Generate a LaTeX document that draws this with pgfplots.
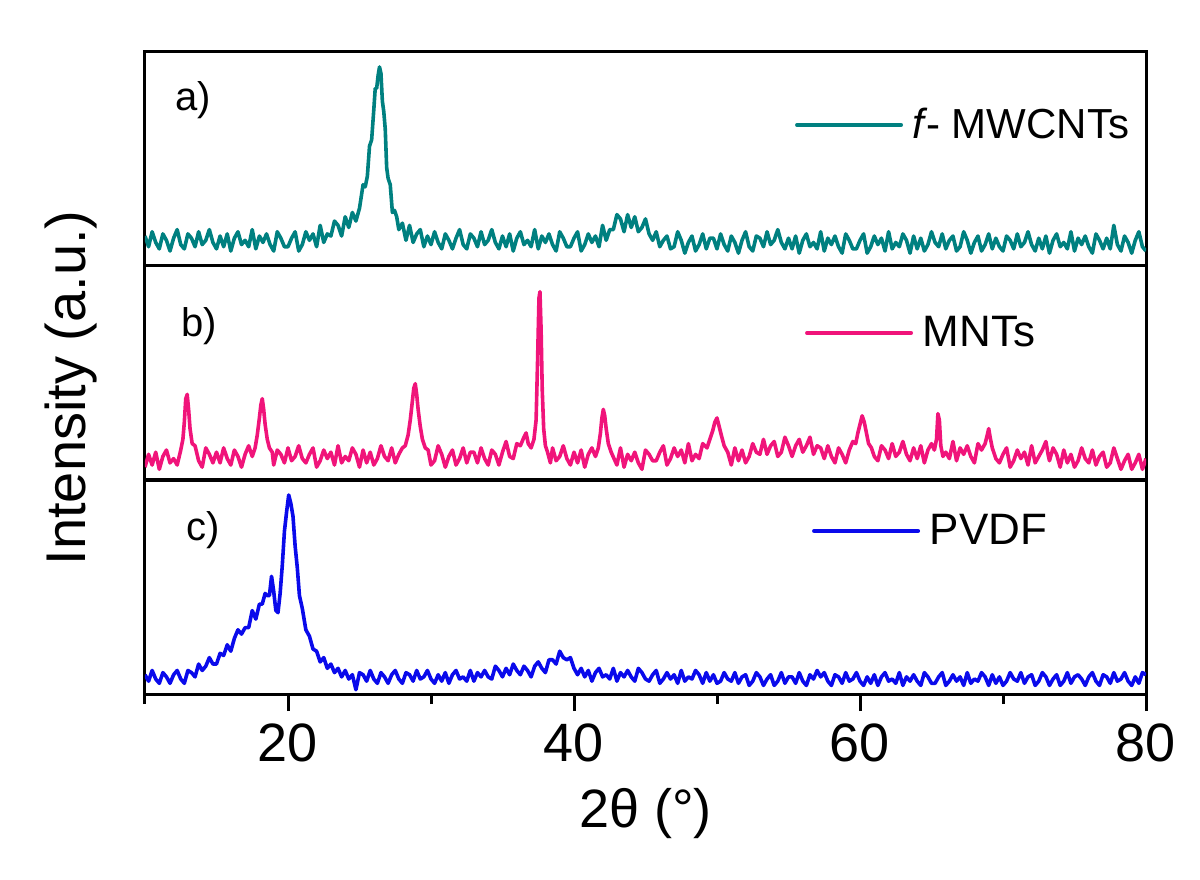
\documentclass[border=0pt]{standalone}
\usepackage{pgfplots}
\pgfplotsset{compat=1.18}
\usepackage{fontspec}
\setmainfont{Liberation Sans}
\definecolor{cteal}{RGB}{0,128,128}
\definecolor{cpink}{RGB}{240,20,122}
\definecolor{cblue}{RGB}{10,10,235}
\pgfplotsset{
  panel/.style={
    width=500.5pt, height=107pt, scale only axis,
    xmin=10, xmax=80, ymin=0, ymax=100,
    ytick=\empty,
    axis line style={line width=1.5pt},
    legend style={draw=none, fill=none, inner sep=0pt, font=\fontsize{22}{24}\selectfont, cells={anchor=west}},
    legend image code/.code={\draw[##1, line width=2pt, line cap=round] (0pt,0pt) -- (52pt,0pt); \path (55pt,0pt);},
  },
  every axis plot/.append style={line width=1.8pt, line join=round},
}
\begin{document}
\begin{tikzpicture}
\useasboundingbox (-72.5pt,-92.5pt) rectangle (527.5pt,347pt);
% ---------------- panel c (PVDF)
\begin{axis}[panel, at={(0pt,0pt)}, anchor=south west,
  xtick={20,40,60,80}, minor xtick={10,30,50,70}, xtick pos=bottom, tick align=outside,
  major tick length=8.5pt, minor tick length=5pt,
  every tick/.style={black, line width=1.5pt},
  xticklabel style={font=\fontsize{27}{27}\selectfont, inner sep=6pt},
  /pgf/number format/assume math mode=true,
  xlabel={2θ (°)}, xlabel style={font=\fontsize{27}{27}\selectfont, at={(axis description cs:0.5,-0.56)}, anchor=center},
  legend style={at={(axis description cs:0.666,0.762)}, anchor=west},
]
\addplot[cblue] coordinates {
(10,9)(10.25,6)(10.5,11)(10.75,7)(11,5)(11.25,10)(11.5,8)(11.75,5)(12,9)(12.25,11)(12.5,7)(12.75,5)(13,11)(13.25,10)(13.5,8)(13.75,14)(14,11)(14.25,13)(14.5,17)(14.75,14)(15,14)(15.25,19)(15.5,18)(15.75,23)(16,20)(16.25,26)(16.5,30)(16.75,28)(17,31)(17.25,31)(17.5,39)(17.75,35)(18,42)(18.2,42)(18.4,47)(18.55,46)(18.7,46)(18.85,55)(19,48)(19.15,39)(19.3,38)(19.45,47)(19.6,60)(19.75,76)(19.9,85)(20.05,93)(20.2,89)(20.35,83)(20.5,69)(20.65,59)(20.8,46)(21,40)(21.25,30)(21.5,27)(21.75,21)(22,20)(22.25,15)(22.5,17)(22.75,12)(23,14)(23.25,10)(23.5,12)(23.75,8)(24,11)(24.25,7)(24.5,9)(24.75,2)(25,10)
(25.25,9)(25.5,6)(25.75,11)(26,7)(26.25,5)(26.5,10)(26.75,8)(27,5)(27.25,9)(27.5,11)(27.75,7)(28,5)(28.25,10)(28.5,9)(28.75,6)(29,11)(29.25,7)(29.5,8)(29.75,11)(30,7)(30.25,5)(30.5,9)(30.75,6)(31,10)(31.25,5)(31.5,9)(31.75,11)(32,7)(32.25,8)(32.5,6)(32.75,11)(33,6)(33.25,10)(33.5,8)(33.75,11)(34,8)(34.25,7)(34.5,13)(34.75,11)(35,8)
(35.25,12)(35.5,9)(35.75,14)(36,11)(36.25,9)(36.5,13)(36.75,11)(37,8)(37.25,13)(37.5,15)(37.75,12)(38,10)(38.25,16)(38.5,16)(38.75,14)(39,20)(39.25,17)(39.5,16)(39.75,17)(40,12)(40.25,9)(40.5,12)(40.75,8)(41,11)(41.25,6)(41.5,10)(41.75,12)(42,8)(42.25,9)(42.5,7)(42.75,12)(43,6)(43.25,10)(43.5,8)(43.75,11)(44,8)(44.25,6)(44.5,12)(44.75,10)(45,7)
(45.25,6)(45.5,9)(45.75,11)(46,5)(46.25,7)(46.5,10)(46.75,7)(47,9)(47.25,5)(47.5,11)(47.75,6)(48,8)(48.25,7)(48.5,11)(48.75,9)(49,5)(49.25,10)(49.5,6)(49.75,9)(50,5)
(50.25,6)(50.5,10)(50.75,7)(51,6)(51.25,10)(51.5,5)(51.75,8)(52,9)(52.25,4)(52.5,6)(52.75,10)(53,8)(53.25,4)(53.5,7)(53.75,9)(54,4)(54.25,6)(54.5,10)(54.75,5)(55,8)
(55.25,8)(55.5,5)(55.75,10)(56,6)(56.25,4)(56.5,9)(56.75,7)(57,11)(57.25,8)(57.5,10)(57.75,6)(58,4)(58.25,9)(58.5,8)(58.75,5)(59,10)(59.25,6)(59.5,7)(59.75,10)(60,6)(60.25,4)(60.5,8)(60.75,5)(61,9)(61.25,4)(61.5,8)(61.75,10)(62,6)(62.25,7)(62.5,5)(62.75,10)(63,4)(63.25,8)(63.5,6)(63.75,9)(64,6)(64.25,4)(64.5,10)(64.75,8)(65,5)
(65.25,5)(65.5,8)(65.75,10)(66,4)(66.25,6)(66.5,9)(66.75,6)(67,8)(67.25,4)(67.5,10)(67.75,5)(68,7)(68.25,6)(68.5,10)(68.75,8)(69,4)(69.25,9)(69.5,5)(69.75,8)(70,4)(70.25,6)(70.5,10)(70.75,7)(71,6)(71.25,10)(71.5,5)(71.75,8)(72,9)(72.25,4)(72.5,6)(72.75,10)(73,8)(73.25,4)(73.5,7)(73.75,9)(74,4)(74.25,6)(74.5,10)(74.75,5)(75,8)
(75.25,9)(75.5,7)(75.75,4)(76,8)(76.25,10)(76.5,6)(76.75,4)(77,9)(77.25,8)(77.5,5)(77.75,10)(78,6)(78.25,7)(78.5,10)(78.75,6)(79,4)(79.25,8)(79.5,5)(79.75,10)(80,9)
};
\addlegendentry{PVDF}
\node[font=\fontsize{20}{20}\selectfont] at (axis description cs:0.058,0.766) {c)};
\end{axis}
% ---------------- panel b (MNTs)
\begin{axis}[panel, at={(0pt,107pt)}, anchor=south west, xtick=\empty,
  ylabel={Intensity (a.u.)}, ylabel style={font=\fontsize{28}{28}\selectfont, at={(axis description cs:-0.074,0.43)}, anchor=center},
  legend style={at={(axis description cs:0.659,0.687)}, anchor=west},
]
\addplot[cpink] coordinates {
(10,6)(10.25,12)(10.5,7)(10.75,13)(11,5)(11.25,11)(11.5,14)(11.75,8)(12,10)(12.25,7)(12.5,14)(12.65,19)(12.75,27)(12.85,38)(12.95,40)(13.05,33)(13.15,24)(13.3,17)(13.5,16)(13.75,9)(14,6)(14.25,15)(14.5,12)(14.75,8)(15,13)(15.25,8)(15.5,15)(15.75,10)(16,7)(16.25,14)(16.5,11)(16.75,6)(17,12)(17.25,16)(17.5,11)
(17.7,15)(17.85,21)(18,29)(18.1,35)(18.2,38)(18.3,33)(18.4,26)(18.55,19)(18.7,15)(18.9,13)(19,7)(19.25,14)(19.5,12)(19.75,8)(20,15)(20.25,9)(20.5,11)(20.75,16)(21,10)(21.25,8)(21.5,12)(21.75,15)(22,6)(22.25,9)(22.5,14)(22.75,10)(23,13)(23.25,7)(23.5,16)(23.75,8)(24,11)(24.25,9)(24.5,15)(24.75,12)(25,6)(25.25,14)(25.5,8)(25.75,13)(26,7)(26.25,10)(26.5,16)(26.75,11)(27,9)(27.25,15)(27.5,8)(27.75,12)(28,15)
(28.2,16)(28.4,21)(28.55,28)(28.7,37)(28.8,43)(28.9,45)(29,40)(29.1,33)(29.25,25)(29.4,19)(29.6,15)(29.8,14)(30,7)(30.25,9)(30.5,16)(30.75,12)(31,6)(31.25,11)(31.5,14)(31.75,7)(32,10)(32.25,15)(32.5,8)(32.75,13)(33,13)(33.25,8)(33.5,15)(33.75,10)(34,7)(34.25,14)(34.5,12)(34.75,7)(35,13)(35.25,18)(35.5,11)(35.75,10)(36,17)(36.25,16)(36.5,20)(36.65,22)(36.8,17)(37,15)(37.2,19)(37.35,28)(37.45,55)(37.55,85)(37.62,88)(37.7,70)(37.78,42)(37.88,24)(38,16)(38.15,13)
(38.35,8)(38.5,15)(38.75,9)(39,11)(39.25,16)(39.5,10)(39.75,7)(40,13)(40.25,8)(40.5,14)(40.75,6)(41,12)(41.25,15)(41.5,11)(41.7,15)(41.85,22)(41.95,29)(42.05,33)(42.15,30)(42.25,24)(42.4,17)(42.6,13)(42.8,10)(43,7)(43.25,15)(43.5,6)(43.75,12)(44,9)(44.25,13)(44.5,8)(44.75,5)(45,14)(45.25,12)(45.5,9)(45.75,9)(46,13)(46.25,16)(46.5,7)(46.75,10)(47,15)(47.25,11)(47.5,14)(47.75,8)(48,17)(48.25,9)(48.5,12)(48.75,10)(49,17)
(49.3,15)(49.5,19)(49.7,23)(49.85,27)(50,29)(50.15,25)(50.3,21)(50.5,16)(50.75,13)(51,7)(51.25,15)(51.5,9)(51.75,14)(52,8)(52.25,11)(52.5,17)(52.75,13)(53,12)(53.25,19)(53.5,12)(53.75,16)(54,18)(54.25,11)(54.5,13)(54.75,20)(55,16)(55.25,11)(55.5,16)(55.75,19)(56,13)(56.25,16)(56.5,20)(56.75,12)(57,16)(57.25,15)(57.5,10)(57.75,16)(58,11)(58.25,8)(58.5,15)(58.75,12)(59,8)(59.25,14)
(59.5,18)(59.7,17)(59.85,22)(60,26)(60.15,30)(60.3,27)(60.45,22)(60.6,17)(60.8,15)(61,11)(61.25,9)(61.5,16)(61.75,14)(62,10)(62.25,17)(62.5,11)(62.75,13)(63,18)(63.25,12)(63.5,9)(63.75,15)(64,10)(64.25,16)(64.5,8)(64.75,14)(65,17)(65.2,14)(65.35,19)(65.45,31)(65.55,28)(65.65,16)(65.8,11)(66,13)(66.25,10)(66.5,18)(66.75,9)(67,15)(67.25,12)(67.5,16)(67.75,11)(68,8)(68.25,17)(68.5,14)
(68.75,17)(68.9,21)(69,24)(69.1,20)(69.25,15)(69.5,10)(69.75,8)(70,12)(70.25,15)(70.5,6)(70.75,9)(71,14)(71.25,10)(71.5,13)(71.75,7)(72,16)(72.25,8)(72.5,11)(72.75,14)(73,18)(73.15,12)(73.25,9)(73.5,15)(73.75,12)(74,6)(74.25,14)(74.5,8)(74.75,12)(75,6)(75.25,9)(75.5,15)(75.75,10)(76,8)(76.25,14)(76.5,7)(76.75,11)(77,13)(77.25,6)(77.5,8)(77.75,15)(78,10)(78.25,5)(78.5,9)(78.75,12)(79,5)(79.25,8)(79.5,12)(79.75,5)(80,10)
};
\addlegendentry{MNTs}
\node[font=\fontsize{20}{20}\selectfont] at (axis description cs:0.054,0.72) {b)};
\end{axis}
% ---------------- panel a (f-MWCNTs)
\begin{axis}[panel, at={(0pt,214pt)}, anchor=south west, xtick=\empty,
  legend style={at={(axis description cs:0.649,0.659)}, anchor=west, font=\fontsize{21}{24}\selectfont},
]
\addplot[cteal] coordinates {
(10,14)(10.25,9)(10.5,16)(10.75,11)(11,8)(11.25,15)(11.5,12)(11.75,7)(12,13)(12.25,17)(12.5,10)(12.75,8)(13,15)(13.25,13)(13.5,9)(13.75,16)(14,10)(14.25,12)(14.5,17)(14.75,11)(15,8)(15.25,14)(15.5,9)(15.75,15)(16,7)(16.25,13)(16.5,16)(16.75,10)(17,12)(17.25,9)(17.5,17)(17.75,8)(18,14)(18.25,11)(18.5,15)(18.75,10)(19,7)(19.25,16)(19.5,13)(19.75,9)
(20,9)(20.25,13)(20.5,16)(20.75,7)(21,10)(21.25,16)(21.5,12)(21.75,15)(22,9)(22.25,19)(22.5,11)(22.75,15)(23,14)(23.25,21)(23.5,19)(23.75,14)(24,23)(24.25,18)(24.5,25)(24.75,21)(25,27)(25.25,38)(25.4,37)(25.55,42)(25.7,56)(25.85,59)(26,73)(26.1,83)(26.2,83)(26.3,89)(26.4,93)(26.5,90)(26.6,77)(26.7,72)(26.8,64)(26.9,46)(27,41)(27.15,38)(27.3,25)(27.45,26)(27.6,23)(27.75,17)(28,20)(28.25,12)(28.5,19)(28.75,11)(29,15)(29.25,17)(29.5,9)
(29.75,14)(30,10)(30.25,16)(30.5,11)(30.75,8)(31,15)(31.25,12)(31.5,8)(31.75,13)(32,17)(32.25,10)(32.5,8)(32.75,15)(33,13)(33.25,9)(33.5,16)(33.75,10)(34,12)(34.25,17)(34.5,11)(34.75,8)(35,14)(35.25,9)(35.5,15)(35.75,7)(36,13)(36.25,16)(36.5,10)(36.75,12)(37,9)(37.25,17)(37.5,8)(37.75,14)(38,11)(38.25,15)(38.5,10)(38.75,7)(39,16)(39.25,13)(39.5,9)
(39.75,9)(40,13)(40.25,16)(40.5,7)(40.75,10)(41,15)(41.25,11)(41.5,14)(41.75,9)(42,19)(42.25,12)(42.5,17)(42.75,17)(43,24)(43.25,22)(43.5,16)(43.75,24)(44,18)(44.25,23)(44.5,16)(44.75,18)(45,22)(45.25,15)(45.5,12)(45.75,16)(46,9)(46.25,12)(46.5,14)(46.75,8)(47,9)(47.25,16)(47.5,12)(47.75,6)(48,11)(48.25,14)(48.5,7)(48.75,10)(49,15)(49.25,8)(49.5,13)
(49.75,13)(50,8)(50.25,15)(50.5,10)(50.75,7)(51,14)(51.25,11)(51.5,6)(51.75,12)(52,16)(52.25,9)(52.5,7)(52.75,14)(53,13)(53.25,9)(53.5,16)(53.75,10)(54,12)(54.25,17)(54.5,11)(54.75,8)(55,13)(55.25,8)(55.5,14)(55.75,6)(56,12)(56.25,15)(56.5,9)(56.75,11)(57,8)(57.25,16)(57.5,7)(57.75,13)(58,10)(58.25,14)(58.5,9)(58.75,6)(59,15)(59.25,12)(59.5,8)
(59.75,8)(60,12)(60.25,15)(60.5,6)(60.75,9)(61,14)(61.25,10)(61.5,13)(61.75,7)(62,16)(62.25,8)(62.5,11)(62.75,9)(63,15)(63.25,12)(63.5,6)(63.75,14)(64,8)(64.25,13)(64.5,7)(64.75,10)(65,16)(65.25,11)(65.5,9)(65.75,15)(66,8)(66.25,12)(66.5,14)(66.75,7)(67,9)(67.25,16)(67.5,12)(67.75,6)(68,11)(68.25,14)(68.5,7)(68.75,10)(69,15)(69.25,8)(69.5,13)
(69.75,9)(70,7)(70.25,14)(70.5,12)(70.75,8)(71,15)(71.25,9)(71.5,11)(71.75,16)(72,10)(72.25,7)(72.5,13)(72.75,8)(73,14)(73.25,6)(73.5,12)(73.75,15)(74,9)(74.25,11)(74.5,8)(74.75,16)(75,7)(75.25,13)(75.5,10)(75.75,14)(76,9)(76.25,6)(76.5,15)(76.75,12)(77,8)(77.25,13)(77.5,8)(77.75,19)(78,10)(78.25,7)(78.5,14)(78.75,11)(79,6)(79.25,12)(79.5,16)(79.75,9)(80,7)
};
\addlegendentry{\textit{f}\kern-1pt- MWCNTs}
\node[font=\fontsize{20}{20}\selectfont] at (axis description cs:0.048,0.776) {a)};
\end{axis}
\end{tikzpicture}
\end{document}
